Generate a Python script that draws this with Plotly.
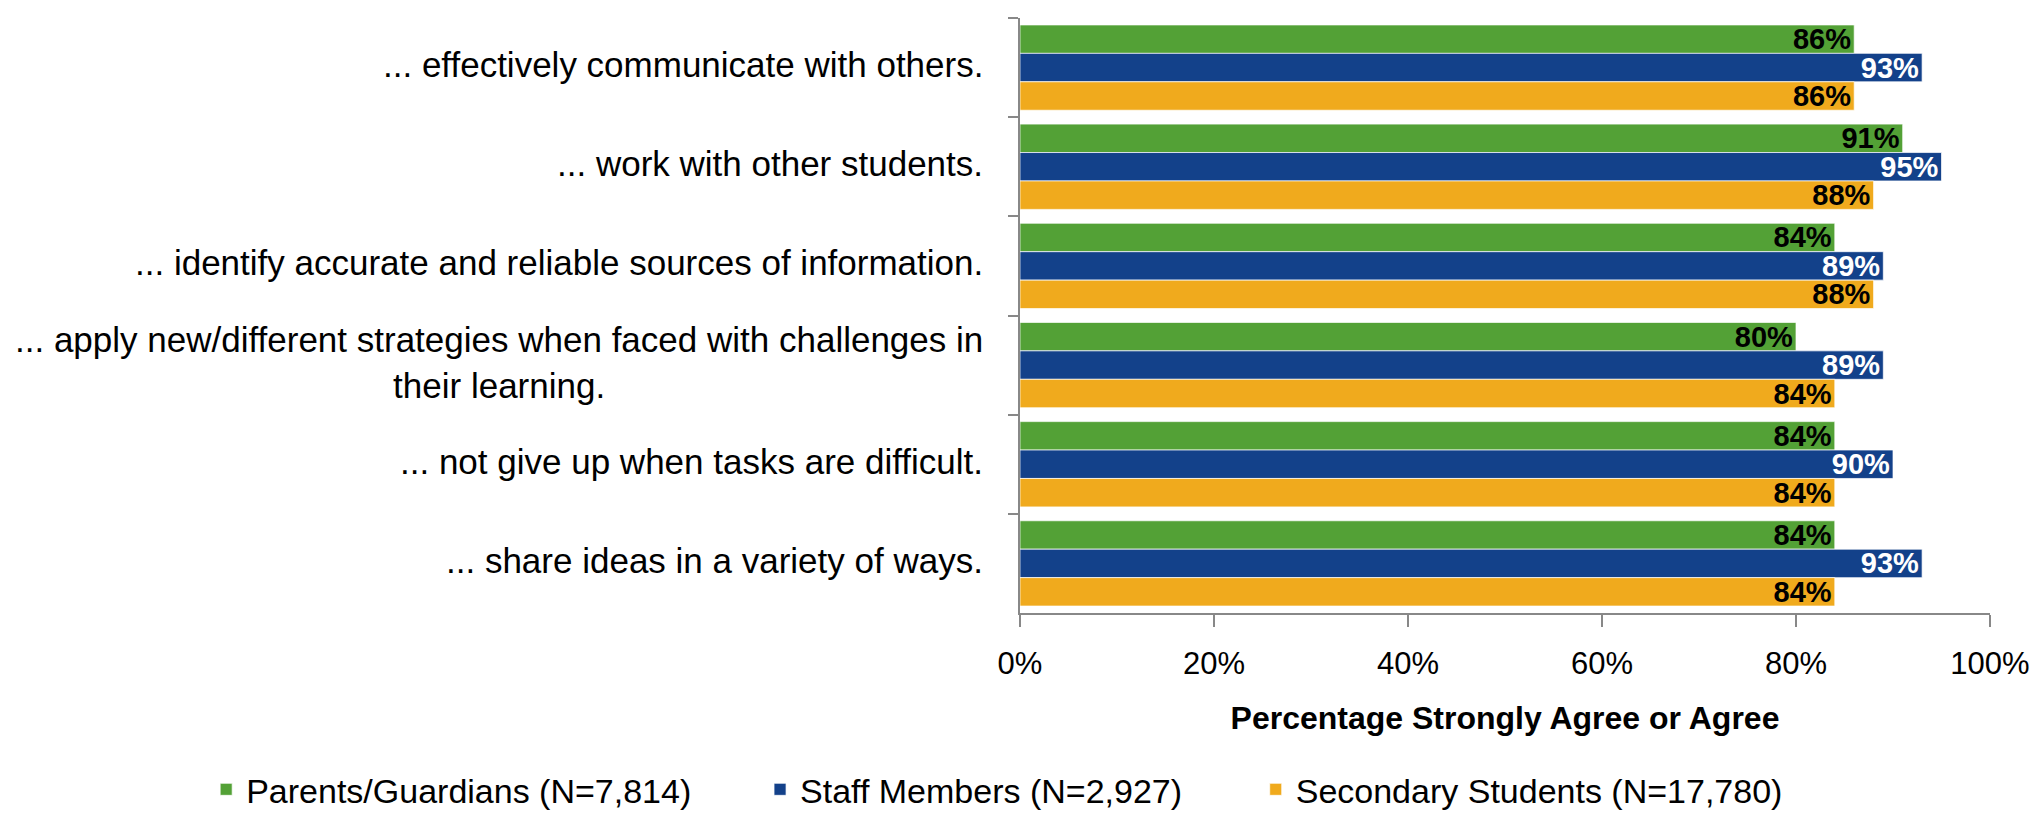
import plotly.graph_objects as go

categories = [
    "... effectively communicate with others.",
    "... work with other students.",
    "... identify accurate and reliable sources of information.",
    "... apply new/different strategies when faced with challenges in<br>their learning.",
    "... not give up when tasks are difficult.",
    "... share ideas in a variety of ways.",
]
parents = [86, 91, 84, 80, 84, 84]
staff = [93, 95, 89, 89, 90, 93]
students = [86, 88, 88, 84, 84, 84]

series = [
    ("Parents/Guardians (N=7,814)", parents, "#53A136", "black", "legend"),
    ("Staff Members (N=2,927)", staff, "#13418A", "white", "legend2"),
    ("Secondary Students (N=17,780)", students, "#F0AA1D", "black", "legend3"),
]

FONT = "Liberation Sans, Arial, sans-serif"

fig = go.Figure()
for name, vals, color, tcolor, leg in series:
    fig.add_trace(go.Bar(
        y=categories, x=[v / 100 for v in vals], name=name, orientation="h",
        marker=dict(color=color, line=dict(color="rgba(255,255,255,0.7)", width=1)),
        text=[f"{v}%" for v in vals], textposition="inside", insidetextanchor="end",
        textfont=dict(family=FONT, size=29, color=tcolor, weight="bold"),
        cliponaxis=False, legend=leg,
    ))

# category labels as annotations so the wrapped line is centred like the original
for c in categories:
    fig.add_annotation(x=-0.036, xref="paper", y=c, yref="y", text=c, showarrow=False,
                       xanchor="right", align="center", yshift=3,
                       font=dict(family=FONT, size=35, color="black"))

# one legend per series so the spacing between entries matches the original
leg_style = dict(orientation="h", xref="paper", yref="paper", y=-0.297,
                 xanchor="left", yanchor="middle", font=dict(size=34), itemwidth=30)

fig.update_layout(
    width=2043, height=821,
    margin=dict(l=1012, r=61, t=10, b=205),
    plot_bgcolor="white", paper_bgcolor="white",
    barmode="group", bargap=0.14, bargroupgap=0,
    uniformtext=dict(minsize=29, mode="show"),
    font=dict(family=FONT, size=31, color="black"),
    showlegend=True,
    legend=dict(x=-0.839, **leg_style),
    legend2=dict(x=-0.268, **leg_style),
    legend3=dict(x=0.243, **leg_style),
)
fig.update_xaxes(range=[0, 1], tickformat=".0%", dtick=0.2, showgrid=False,
                 showline=True, linecolor="#888", linewidth=2,
                 ticks="outside", ticklen=12, tickcolor="#888", tickwidth=2,
                 ticklabelstandoff=10, automargin=False,
                 title=dict(text="<b>Percentage Strongly Agree or Agree</b>", standoff=26,
                            font=dict(size=32)),
                 zeroline=False)
fig.update_yaxes(autorange="reversed", showticklabels=False, showgrid=False,
                 showline=True, linecolor="#888", linewidth=2, automargin=False,
                 ticks="outside", tickson="boundaries", ticklen=10, tickcolor="#888", tickwidth=2)

fig.write_html("out.html")
